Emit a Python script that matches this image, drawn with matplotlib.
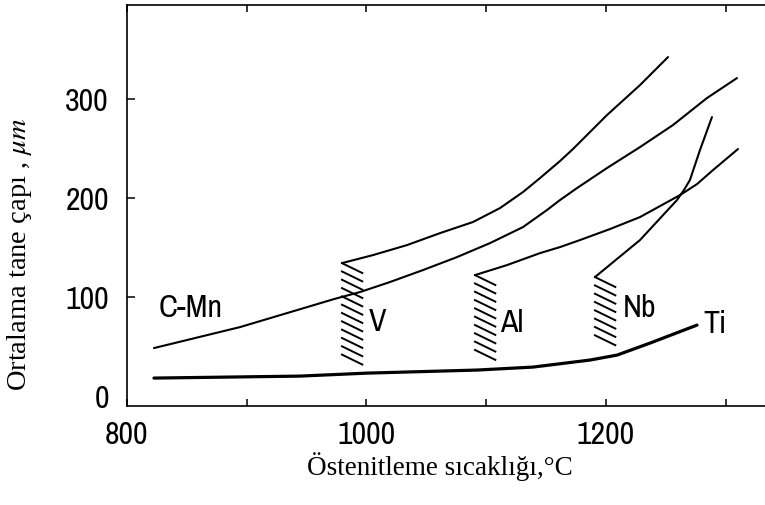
import numpy as np
import matplotlib
matplotlib.use("Agg")
import matplotlib.pyplot as plt

# grain size vs austenitising temperature
t_cmn = [822.5, 894.4, 972.9, 994.6, 1019.6, 1047.2, 1075.6, 1103.1, 1130.7,
         1150.7, 1161.6, 1175.8, 1200.8, 1228.4, 1255.9, 1284.3, 1309.4]
d_cmn = [48.5, 69.7, 98.0, 105.1, 115.2, 127.3, 140.4, 154.5, 170.7,
         187.9, 198.0, 210.1, 230.3, 251.5, 273.7, 301.0, 321.2]

t_v = [979.5, 1005.4, 1033.8, 1061.4, 1088.9, 1111.5, 1130.7, 1144.9, 1161.6,
       1172.4, 1200.8, 1228.4, 1251.8]
d_v = [134.3, 142.4, 152.5, 164.6, 175.8, 189.9, 206.1, 220.2, 237.4,
       249.5, 283.8, 314.1, 342.4]

t_al = [1090.6, 1117.3, 1144.9, 1161.6, 1178.3, 1203.3, 1228.4, 1261.8, 1276.0,
        1289.4, 1310.2]
d_al = [122.2, 132.3, 144.4, 150.5, 157.6, 168.7, 180.8, 203.0, 214.1,
        228.3, 249.5]

t_nb = [1190.8, 1228.4, 1259.3, 1265.1, 1270.1, 1278.5, 1288.5]
d_nb = [120.2, 157.6, 198.0, 208.1, 218.2, 248.5, 281.8]

t_ti = [822.5, 944.5, 1000.4, 1092.3, 1139.0, 1186.6, 1209.2, 1236.7, 1276.0]
d_ti = [18.2, 20.2, 23.2, 26.3, 29.3, 36.4, 41.4, 53.5, 71.7]

# hatched transition bands: start temperature, top, bottom
band_t = [979.5, 1090.6, 1190.8]
band_top = [134.3, 122.2, 120.2]
band_bot = [26.0, 28.3, 43.4]

labels = ["C-Mn", "V", "Al", "Nb", "Ti"]
label_t = [826.7, 1002.1, 1111.5, 1214.2, 1281.0]
label_d = [88.9, 74.7, 73.7, 88.9, 72.7]

sans = ["Archivo Narrow", "Liberation Sans", "DejaVu Sans"]
serif = ["Liberation Serif", "DejaVu Serif"]
plt.rcParams["mathtext.fontset"] = "stix"

fig = plt.figure(figsize=(7.65, 5.05), dpi=100)
ax = fig.add_axes([127 / 765, 99 / 505, 638 / 765, 401 / 505])

lw = 1.5
ax.plot(t_cmn, d_cmn, color="k", lw=lw, solid_capstyle="round")
ax.plot(t_v, d_v, color="k", lw=lw, solid_capstyle="round")
ax.plot(t_al, d_al, color="k", lw=lw, solid_capstyle="round")
ax.plot(t_nb, d_nb, color="k", lw=lw, solid_capstyle="round")
ax.plot(t_ti, d_ti, color="k", lw=2.3, solid_capstyle="round")

# short diagonal strokes for the hatched bands
dx, dy, step = 17.0, 10.0, 8.4
for t0, top, bot in zip(band_t, band_top, band_bot):
    for y in np.arange(top, bot + dy - 0.1, -step):
        ax.plot([t0, t0 + dx], [y, y - dy], color="k", lw=1.4)

for s, x, y in zip(labels, label_t, label_d):
    ax.text(x, y, s, ha="left", va="center", fontsize=23, family=sans)

ax.set_xlim(800, 1332.8)
ax.set_ylim(-10, 395)
ax.set_xticks([800, 1000, 1200])
ax.set_xticks([900, 1100, 1300], minor=True)
ax.set_yticks([0, 100, 200, 300])
ax.tick_params(axis="x", which="both", direction="in", top=True, length=5,
               width=1.1, pad=11, labelsize=23)
ax.tick_params(axis="y", direction="in", length=6, width=1.1, pad=13,
               labelsize=23)
ax.yaxis.get_major_ticks()[0].tick1line.set_visible(False)
for lab in ax.get_xticklabels() + ax.get_yticklabels():
    lab.set_family(sans)

ax.spines["right"].set_visible(False)
for sp in ["left", "top", "bottom"]:
    ax.spines[sp].set_linewidth(1.2)

ax.set_xlabel("Östenitleme sıcaklığı,°C", fontsize=19.5, family=serif, va="center")
ax.xaxis.set_label_coords(0.49, -0.152)
ax.set_ylabel("Ortalama tane çapı , $\\mu m$", fontsize=20.5, family=serif, va="center")
ax.yaxis.set_label_coords(-0.169, 0.379)

fig.savefig("out.png", dpi=100)
